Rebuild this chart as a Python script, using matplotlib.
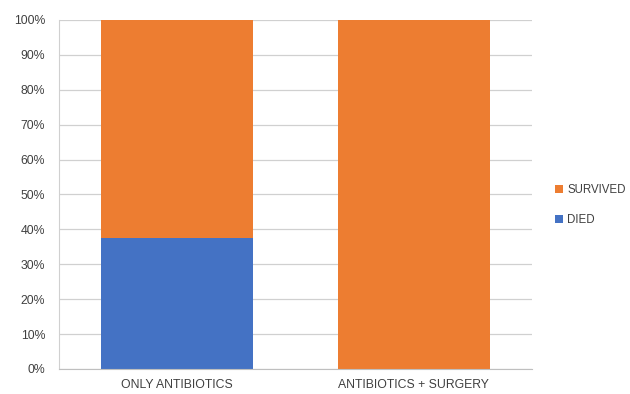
import matplotlib.pyplot as plt
from matplotlib.ticker import PercentFormatter

categories = ['ONLY ANTIBIOTICS', 'ANTIBIOTICS + SURGERY']
died = [37.5, 0.0]
survived = [62.5, 100.0]

plt.rcParams['font.family'] = ['Liberation Sans', 'DejaVu Sans']

fig = plt.figure(figsize=(6.3, 3.94), dpi=100)
ax = fig.add_axes([0.0937, 0.0635, 0.7506, 0.8858])

x = range(len(categories))
ax.bar(x, died, width=0.643, color='#4472c4', label='DIED', zorder=2)
ax.bar(x, survived, width=0.643, bottom=died, color='#ed7d31', label='SURVIVED', zorder=2)

ax.set_xlim(-0.5, 1.5)
ax.set_ylim(0, 100)
ax.set_yticks(range(0, 101, 10))
ax.yaxis.set_major_formatter(PercentFormatter(decimals=0))
ax.set_xticks(list(x))
ax.set_xticklabels(categories)
ax.tick_params(axis='both', length=0, labelsize=8.8, colors='#404040')
ax.tick_params(axis='y', pad=10)
ax.tick_params(axis='x', pad=7)
ax.grid(axis='y', color='#d0d0d0', linewidth=0.9, zorder=0)
for side in ['top', 'right']:
    ax.spines[side].set_visible(False)
ax.spines['left'].set_color('#d0d0d0')
ax.spines['bottom'].set_color('#bfbfbf')

handles, labels = ax.get_legend_handles_labels()
fig.legend(handles[::-1], labels[::-1], loc='center left', bbox_to_anchor=(0.865, 0.48),
           frameon=False, fontsize=8.3, handlelength=0.7, handleheight=0.7,
           handletextpad=0.35, labelspacing=1.6, labelcolor='#404040')

fig.savefig('out.png', dpi=100)
